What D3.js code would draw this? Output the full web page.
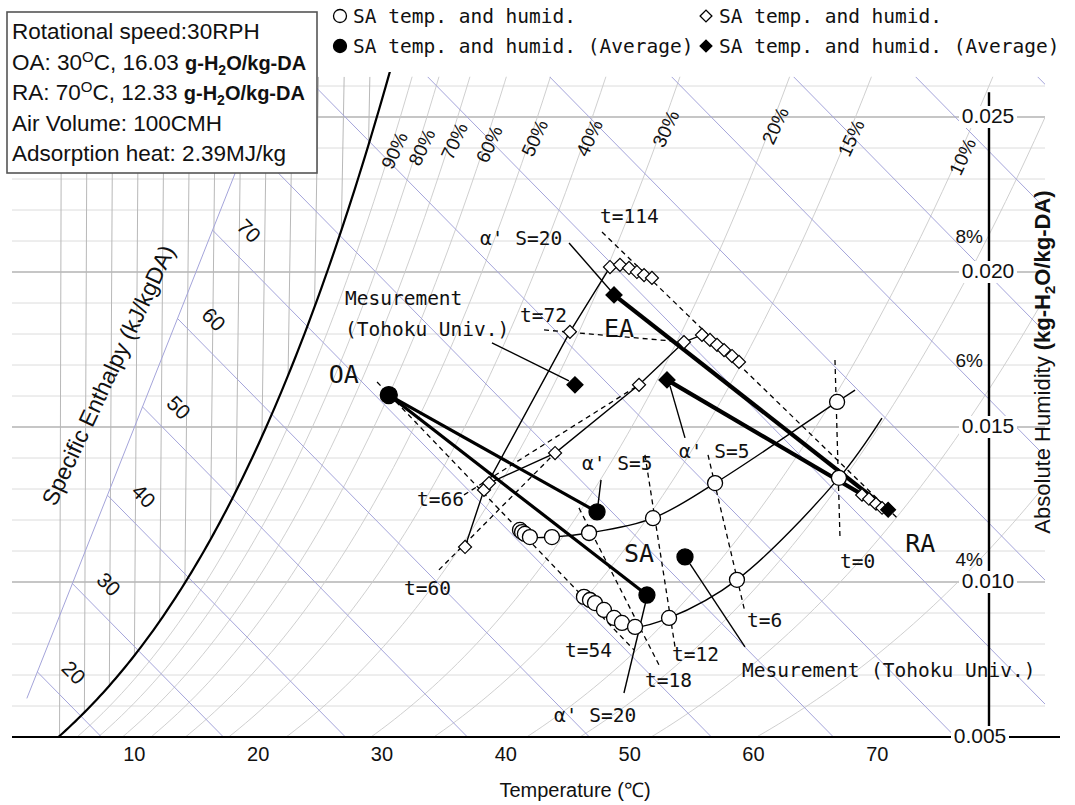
<!DOCTYPE html>
<html>
<head>
<meta charset="utf-8">
<title>Psychrometric chart</title>
<script src="https://cdn.jsdelivr.net/npm/d3@7"></script>
<style>
  body { margin: 0; background: #fff; }
  svg text { font-family: "Liberation Sans", Arial, sans-serif; fill: #111; }
  svg text.mono { font-family: "DejaVu Sans Mono", "Liberation Mono", monospace; }
</style>
</head>
<body>
<svg id="chart" width="1075" height="805"></svg>
<script>
// ---------- values ----------
// air states are [temperature degC, absolute humidity kg/kg-DA]
var tempTicks = [10, 20, 30, 40, 50, 60, 70];
var humidTicks = [0.025, 0.020, 0.015, 0.010, 0.005];
var enthalpyTicks = [20, 30, 40, 50, 60, 70];
var rhTop = [90, 80, 70, 60, 50, 40, 30, 20, 15, 10];
var rhTopLabelHumid = [0.0239, 0.0240, 0.0242, 0.0241, 0.0243, 0.0243, 0.0246, 0.0247, 0.0243, 0.0237];
var rhSide = [8, 6, 4];
var rhSideLabelHumid = [0.0211, 0.0171, 0.01068];

var oa = [30, 0.01603];
var ra = [70, 0.01233];

var saS5 = [[40.70, 0.01168], [40.87, 0.01161], [41.10, 0.01155], [41.51, 0.01145], [43.27, 0.01145],
            [46.22, 0.01158], [51.28, 0.01206], [56.12, 0.01319], [65.53, 0.01581]];
var saS5End = [66.91, 0.01619];
var saS20 = [[45.98, 0.00952], [46.47, 0.00942], [46.88, 0.00932], [47.62, 0.00910], [48.45, 0.00884],
             [49.10, 0.00868], [50.16, 0.00855], [52.86, 0.00884], [58.18, 0.01007], [65.96, 0.01336]];
var saS20End = [69.15, 0.01529];
var eaS20 = [[36.35, 0.01113], [37.74, 0.01297], [44.19, 0.01807], [47.18, 0.02016], [47.96, 0.02023],
             [48.68, 0.02013], [49.31, 0.02000], [49.88, 0.01990], [50.51, 0.01981]];
var eaS5 = [[38.13, 0.01319], [43.31, 0.01416], [49.79, 0.01636], [53.22, 0.01774], [54.62, 0.01797],
            [55.27, 0.01781], [55.84, 0.01765], [56.41, 0.01748], [57.06, 0.01729], [57.63, 0.01710]];
var eaNearRA = [[67.86, 0.01281], [68.43, 0.01268], [69.01, 0.01252], [69.51, 0.01239]];
var saAverage = [[46.80, 0.01226], [51.02, 0.00958]];
var eaAverage = [[51.99, 0.01652], [47.57, 0.01926]];
var saMeasured = [53.95, 0.01081];
var eaMeasured = [44.72, 0.01636];

var isoNames = ["t=0", "t=6", "t=12", "t=18", "t=54", "t=60", "t=66", "t=72", "t=114"];
var isoFrom = [[65.21, 0.01716], [55.47, 0.01410], [50.46, 0.01410], [45.35, 0.01239], [29.05, 0.01645],
               [34.31, 0.01039], [36.16, 0.01281], [42.14, 0.01813], [46.46, 0.02129]];
var isoTo = [[66.28, 0.01136], [58.93, 0.00903], [53.43, 0.00790], [52.20, 0.00732], [50.14, 0.00781],
             [43.31, 0.01416], [49.79, 0.01636], [53.22, 0.01774], [70.74, 0.01207]];

var legendLabels = ["SA temp. and humid.", "SA temp. and humid. (Average)",
                    "SA temp. and humid.", "SA temp. and humid. (Average)"];

// ---------- layout ----------
var svg = d3.select("#chart");
var uScale = d3.scaleLinear().domain([0, 80]).range([10, 986]);
var yScale = d3.scaleLinear().domain([0.005, 0.025]).range([737, 117]);
var topHumid = 0.0263;
var plot = {left: 12, right: 1045, top: yScale(topHumid), bottom: yScale(0.005)};
var axisX = 989;
var mono = "mono";

// psychrometric helpers
function psat(T) { return 610.78 * Math.exp(17.27 * T / (T + 237.3)); }
function humid(T, rh) { var pw = rh * psat(T); return 0.622 * pw / (101325 - pw); }
function tempAt(x, rh) {
    var lo = -20, hi = 120;
    for (var i = 0; i < 60; i++) {
        var m = (lo + hi) / 2;
        if (humid(m, rh) < x) lo = m; else hi = m;
    }
    return (lo + hi) / 2;
}
function hPoint(h, x) { return [(h - 2501 * x) / (1.006 + 1.805 * x), x]; }
function sx(d) { return uScale(d[0] * (1.006 + 1.805 * d[1])); }
function sy(d) { return yScale(d[1]); }
var line = d3.line().x(sx).y(sy);
var smooth = d3.line().x(sx).y(sy).curve(d3.curveCatmullRom.alpha(0.5));

var defs = svg.append("defs");
defs.append("clipPath").attr("id", "plotArea").append("rect")
    .attr("x", plot.left).attr("y", plot.top)
    .attr("width", plot.right - plot.left).attr("height", plot.bottom - plot.top);
defs.append("clipPath").attr("id", "satArea").append("rect")
    .attr("x", plot.left).attr("y", 72)
    .attr("width", plot.right - plot.left).attr("height", plot.bottom - 72);

// ---------- grid ----------
var grid = svg.append("g").attr("clip-path", "url(#plotArea)").attr("fill", "none");

var humidGrid = d3.range(5, 27).map(function(i) { return i / 1000; });
grid.selectAll(".hline").data(humidGrid).join("line")
    .attr("x1", plot.left).attr("x2", plot.right)
    .attr("y1", yScale).attr("y2", yScale)
    .attr("stroke", function(d, i) { return i % 5 === 0 ? "#b3b3b3" : "#dcdcdc"; })
    .attr("stroke-width", function(d, i) { return i % 5 === 0 ? 1.5 : 1; });

var tempGrid = d3.range(4, 71, 2).filter(function(T) { return humid(T, 1) < topHumid; });
grid.selectAll(".tline").data(tempGrid).join("path")
    .attr("d", function(T) { return line([[T, Math.max(0.005, humid(T, 1))], [T, topHumid]]); })
    .attr("stroke", "#b8b8b8").attr("stroke-width", 1);

var rhAll = rhTop.concat(rhSide);
var sampleT = d3.range(0, 110.01, 0.5);
grid.selectAll(".rh").data(rhAll).join("path")
    .attr("d", function(rh) {
        var pts = sampleT.map(function(T) { return [T, humid(T, rh / 100)]; })
            .filter(function(d) { return d[1] > 0.0045 && d[1] < 0.028; });
        return line(pts);
    })
    .attr("stroke", "#cacaca").attr("stroke-width", 0.9);

var enthAxis = d3.scaleLinear().domain([20, 70]).range([0.0071, 0.02135]);
var enthalpyGrid = d3.range(20, 151, 10);
grid.selectAll(".hl").data(enthalpyGrid).join("path")
    .attr("d", function(h) {
        var x0 = Math.min(enthAxis(h), topHumid);
        return line([hPoint(h, x0), hPoint(h, 0.003)]);
    })
    .attr("stroke", "#a4a4da").attr("stroke-width", 1);

// enthalpy scale line and labels
svg.append("path")
    .attr("d", line([hPoint(17, enthAxis(17)), hPoint(86, enthAxis(86))]))
    .attr("fill", "none").attr("stroke", "#a4a4da").attr("stroke-width", 1);
svg.selectAll(".hlab").data(enthalpyTicks).join("text")
    .attr("transform", function(h) {
        var p = hPoint(h, enthAxis(h));
        return "translate(" + (sx(p) + 35) + "," + (sy(p) + 2) + ") rotate(45)";
    })
    .attr("text-anchor", "middle").attr("dominant-baseline", "middle")
    .style("font-size", "21px").text(function(h) { return h; });
svg.append("text")
    .attr("transform", "translate(110,376) rotate(-65)")
    .attr("text-anchor", "middle").attr("dominant-baseline", "middle")
    .style("font-size", "23px").text("Specific Enthalpy (kJ/kgDA)");

// saturation curve
svg.append("path").attr("clip-path", "url(#satArea)")
    .attr("d", line(d3.range(3, 31.01, 0.25).map(function(T) { return [T, humid(T, 1)]; })))
    .attr("fill", "none").attr("stroke", "#000").attr("stroke-width", 2.2);

// relative humidity labels
svg.selectAll(".rhlab").data(rhTop).join("text")
    .attr("transform", function(rh, i) {
        var x = rhTopLabelHumid[i];
        var p = [tempAt(x, rh / 100), x];
        return "translate(" + (sx(p) + 6) + "," + sy(p) + ") rotate(-65)";
    })
    .attr("text-anchor", "middle").attr("dominant-baseline", "middle")
    .style("font-size", "19px").text(function(rh) { return rh + "%"; });
svg.selectAll(".rhside").data(rhSide).join("text")
    .attr("x", axisX - 6).attr("y", function(rh, i) { return yScale(rhSideLabelHumid[i]); })
    .attr("text-anchor", "end").attr("dominant-baseline", "middle")
    .style("font-size", "19px").text(function(rh) { return rh + "%"; });

// ---------- process lines ----------
var marks = svg.append("g").attr("fill", "none").attr("stroke", "#000");

var isoLayout = [["b", 0, 28], ["b", 2, 15], ["b", -3, 14], ["b", -14, 22], ["b", -69, 7],
                 ["a", -35, 25], ["a", -47, 11], ["a", -24, -8], ["a", -2, -9]];
var iso = isoNames.map(function(n, i) { return {name: n, a: isoFrom[i], b: isoTo[i], lay: isoLayout[i]}; });
marks.selectAll(".iso").data(iso).join("path")
    .attr("d", function(d) { return line([d.a, d.b]); })
    .attr("stroke-width", 1.3).attr("stroke-dasharray", "5,4");

marks.append("path").attr("d", smooth(saS5.concat([saS5End]))).attr("stroke-width", 1.4);
marks.append("path").attr("d", smooth(saS20.concat([saS20End]))).attr("stroke-width", 1.4);
marks.append("path").attr("d", line(eaS20)).attr("stroke-width", 1.4);
marks.append("path").attr("d", line(eaS5)).attr("stroke-width", 1.4);

marks.selectAll(".saavg").data(saAverage).join("path")
    .attr("d", function(d) { return line([oa, d]); }).attr("stroke-width", 3.2);
marks.selectAll(".eaavg").data(eaAverage).join("path")
    .attr("d", function(d) { return line([ra, d]); }).attr("stroke-width", 4.2);

// annotations with pointer lines
var notes = [
    {text: ["α' S=20"], at: eaAverage[1], tx: -134, ty: -50, p: [-45, -52, -3, -4]},
    {text: ["α' S=5"], at: eaAverage[0], tx: 12, ty: 78, p: [3, 6, 18, 58]},
    {text: ["α' S=5"], at: saAverage[0], tx: -15, ty: -42, p: [4, -32, 1, -7]},
    {text: ["α' S=20"], at: saAverage[1], tx: -93, ty: 127, p: [-23, 98, -1, 6]},
    {text: ["Mesurement (Tohoku Univ.)"], at: saMeasured, tx: 57, ty: 120, p: [5, 7, 60, 90]},
    {text: ["Mesurement", "(Tohoku Univ.)"], at: eaMeasured, tx: -230, ty: -80, p: [-83, -42, -6, -4]}
];
marks.selectAll(".pointer").data(notes).join("line")
    .attr("x1", function(d) { return sx(d.at) + d.p[0]; })
    .attr("y1", function(d) { return sy(d.at) + d.p[1]; })
    .attr("x2", function(d) { return sx(d.at) + d.p[2]; })
    .attr("y2", function(d) { return sy(d.at) + d.p[3]; })
    .attr("stroke-width", 1.4);

// ---------- markers ----------
var sq = d3.symbol().type(d3.symbolSquare);
function circles(data, filled, r) {
    svg.append("g").selectAll("circle").data(data).join("circle")
        .attr("cx", sx).attr("cy", sy).attr("r", r)
        .attr("fill", filled ? "#000" : "#fff").attr("stroke", "#000").attr("stroke-width", 1.3);
}
function diamonds(data, filled, size) {
    svg.append("g").selectAll("path").data(data).join("path")
        .attr("d", sq.size(size)())
        .attr("transform", function(d) { return "translate(" + sx(d) + "," + sy(d) + ") rotate(45)"; })
        .attr("fill", filled ? "#000" : "#fff").attr("stroke", "#000").attr("stroke-width", 1.2);
}
diamonds(eaNearRA, false, 80);
diamonds(eaS20, false, 85);
diamonds(eaS5, false, 85);
circles(saS5, false, 7.5);
circles(saS20, false, 7.5);
circles([oa], true, 8.5);
circles(saAverage, true, 8);
circles([saMeasured], true, 8);
diamonds(eaAverage, true, 130);
diamonds([eaMeasured], true, 130);
diamonds([ra], true, 110);

// ---------- text labels ----------
var texts = svg.append("g");
texts.selectAll(".isolab").data(iso).join("text").attr("class", mono)
    .attr("x", function(d) { var e = d.lay[0] === "a" ? d.a : d.b; return sx(e) + d.lay[1]; })
    .attr("y", function(d) { var e = d.lay[0] === "a" ? d.a : d.b; return sy(e) + d.lay[2]; })
    .style("font-size", "19.5px").text(function(d) { return d.name; });

notes.forEach(function(n) {
    n.text.forEach(function(s, k) {
        texts.append("text").attr("class", mono)
            .attr("x", sx(n.at) + n.tx).attr("y", sy(n.at) + n.ty + k * 31)
            .style("font-size", "19.5px").text(s);
    });
});

var regions = [
    {name: "OA", at: oa, dx: -60, dy: -12},
    {name: "RA", at: ra, dx: 17, dy: 42},
    {name: "EA", at: [46.89, 0.01790], dx: 0, dy: 0},
    {name: "SA", at: [49.09, 0.01065], dx: 0, dy: 0}
];
texts.selectAll(".region").data(regions).join("text").attr("class", mono)
    .attr("x", function(d) { return sx(d.at) + d.dx; })
    .attr("y", function(d) { return sy(d.at) + d.dy; })
    .style("font-size", "25px").text(function(d) { return d.name; });

// ---------- axes ----------
svg.append("line").attr("x1", axisX).attr("x2", axisX)
    .attr("y1", yScale(0.0258)).attr("y2", plot.bottom)
    .attr("stroke", "#000").attr("stroke-width", 2.4);
svg.append("line").attr("x1", plot.left).attr("x2", 1060)
    .attr("y1", plot.bottom).attr("y2", plot.bottom)
    .attr("stroke", "#000").attr("stroke-width", 2.2);

var hLab = svg.selectAll(".hlabel").data(humidTicks).join("g")
    .attr("transform", function(d) { return "translate(" + (d === 0.005 ? 980 : 988) + "," + yScale(d) + ")"; });
hLab.append("rect").attr("x", -29).attr("y", -11).attr("width", 58).attr("height", 22).attr("fill", "#fff");
hLab.append("text").attr("text-anchor", "middle").attr("dominant-baseline", "middle")
    .style("font-size", "21px").text(function(d) { return d.toFixed(3); });

var tempScale = d3.scaleLinear().domain([0, 80])
    .range([sx([0, 0.005]), sx([80, 0.005])]);
var xAxis = svg.append("g").attr("transform", "translate(0," + plot.bottom + ")")
    .call(d3.axisBottom(tempScale).tickValues(tempTicks).tickSize(0).tickPadding(10));
xAxis.select(".domain").remove();
xAxis.selectAll("text").style("font-size", "20px")
    .style("font-family", "'Liberation Sans', Arial, sans-serif").attr("fill", "#111");

svg.append("text").attr("x", 575).attr("y", 797).attr("text-anchor", "middle")
    .style("font-size", "20px").text("Temperature (℃)");

var yTitle = svg.append("text")
    .attr("transform", "translate(1050,362) rotate(-90)")
    .attr("text-anchor", "middle").style("font-size", "22px");
yTitle.append("tspan").text("Absolute Humidity ");
yTitle.append("tspan").style("font-weight", "bold").text("(kg-H");
yTitle.append("tspan").style("font-weight", "bold").style("font-size", "15px").attr("dy", 5).text("2");
yTitle.append("tspan").style("font-weight", "bold").attr("dy", -5).text("O/kg-DA)");

// ---------- condition box ----------
svg.append("rect").attr("x", 7).attr("y", 12).attr("width", 310).attr("height", 161)
    .attr("fill", "#fff").attr("stroke", "#555").attr("stroke-width", 1.6);
var boxLines = [
    [["Rotational speed:30RPH", ""]],
    [["OA: 30", ""], ["O", "sup"], ["C, 16.03 ", ""], ["g-H", "b"], ["2", "bsub"], ["O/kg-DA", "b"]],
    [["RA: 70", ""], ["O", "sup"], ["C, 12.33 ", ""], ["g-H", "b"], ["2", "bsub"], ["O/kg-DA", "b"]],
    [["Air Volume: 100CMH", ""]],
    [["Adsorption heat: 2.39MJ/kg", ""]]
];
boxLines.forEach(function(parts, i) {
    var t = svg.append("text").attr("x", 12).attr("y", 39 + i * 30.5).style("font-size", "22.5px");
    var shift = 0;
    parts.forEach(function(p) {
        var dy = 0;
        if (p[1] === "sup") dy = -8;
        if (p[1] === "bsub") dy = 5;
        var ts = t.append("tspan").attr("dy", dy - shift).text(p[0]);
        shift = dy;
        if (p[1] === "sup") ts.style("font-size", "15px");
        if (p[1] === "b" || p[1] === "bsub") ts.style("font-weight", "bold").style("font-size", p[1] === "bsub" ? "14px" : "20px");
    });
});

// ---------- legend ----------
var legendPos = [[340, 16], [340, 46], [706, 16], [706, 46]];
legendLabels.forEach(function(label, i) {
    var x = legendPos[i][0], y = legendPos[i][1];
    if (i < 2) {
        svg.append("circle").attr("cx", x).attr("cy", y).attr("r", 6.5)
            .attr("fill", i === 1 ? "#000" : "#fff").attr("stroke", "#000").attr("stroke-width", 1.3);
    } else {
        svg.append("path").attr("d", sq.size(70)())
            .attr("transform", "translate(" + x + "," + y + ") rotate(45)")
            .attr("fill", i === 3 ? "#000" : "#fff").attr("stroke", "#000").attr("stroke-width", 1.3);
    }
    svg.append("text").attr("class", mono).attr("x", x + 13).attr("y", y + 7)
        .style("font-size", "19.5px").text(label);
});
</script>
</body>
</html>
